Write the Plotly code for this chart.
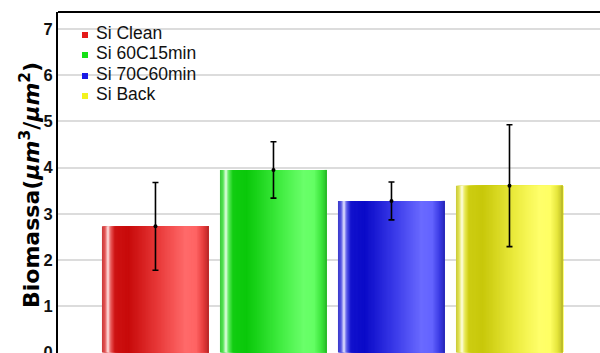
import plotly.graph_objects as go

# Biomass per substrate treatment (mean and standard deviation)
categories = ["Si Clean", "Si 60C15min", "Si 70C60min", "Si Back"]
biomass = [2.73, 3.95, 3.28, 3.61]
biomass_sd = [0.95, 0.61, 0.41, 1.32]
y_ticks = [0, 1, 2, 3, 4, 5, 6, 7]

# Which RGB channels carry the "main" hue for each series
hue_channels = [(1, 0, 0), (0, 1, 0), (0, 0, 1), (1, 1, 0)]
legend_colors = ["#e41a1a", "#16e016", "#1a1ae4", "#f2f21e"]

# Cylinder shading profile across the bar width: (position, main, other)
shade_stops = [
    (0.00, 200, 55), (0.03, 228, 85), (0.055, 255, 235), (0.08, 235, 95),
    (0.12, 205, 18), (0.25, 200, 10), (0.55, 235, 62), (0.78, 255, 106),
    (0.88, 255, 100), (0.95, 228, 58), (1.00, 185, 40),
]

BAR_W = 0.907
N_STRIPES = 90

# Pixel layout of the plotting area
W, H = 600, 353
L, T = 58, 12
PW, PH = W - L, H - T


def shade(t):
    for (t0, m0, o0), (t1, m1, o1) in zip(shade_stops, shade_stops[1:]):
        if t0 <= t <= t1:
            f = (t - t0) / (t1 - t0) if t1 > t0 else 0
            return m0 + f * (m1 - m0), o0 + f * (o1 - o0)
    return shade_stops[-1][1], shade_stops[-1][2]


def stripe_color(chans, t):
    main, other = shade(t)
    rgb = [int(round(main if c else other)) for c in chans]
    return "rgb(%d,%d,%d)" % tuple(rgb)


def px_x(p):
    return (p - L) / PW


def px_y(p):
    return (H - p) / PH


fig = go.Figure()

# Each bar is built from overlapping stripes, each running to the bar's right edge
for k in range(N_STRIPES):
    t = k / N_STRIPES
    fig.add_trace(go.Bar(
        x=categories, y=biomass,
        width=BAR_W * (1 - t),
        offset=-BAR_W / 2 + BAR_W * t,
        marker=dict(color=[stripe_color(c, t + 0.5 / N_STRIPES) for c in hue_channels],
                    line=dict(width=0)),
        showlegend=False, hoverinfo="skip",
    ))

fig.add_trace(go.Scatter(
    x=categories, y=biomass, mode="markers",
    marker=dict(color="black", size=4),
    error_y=dict(type="data", array=biomass_sd, color="black", thickness=1.6, width=3),
    showlegend=False,
))

# Legend block in the upper-left corner
legend_rows = [35, 55, 76, 96]
shapes = []
annotations = []
for name, col, py in zip(categories, legend_colors, legend_rows):
    shapes.append(dict(type="rect", xref="paper", yref="paper",
                       x0=px_x(82), x1=px_x(88), y0=px_y(py + 3), y1=px_y(py - 3),
                       fillcolor=col, line=dict(width=0)))
    annotations.append(dict(text=name, xref="paper", yref="paper",
                            x=px_x(94), y=px_y(py - 2), xanchor="left", yanchor="middle",
                            showarrow=False,
                            font=dict(family="Liberation Sans, Arial", size=17.5, color="#111")))

# Frame line along the top of the plot
shapes.append(dict(type="line", xref="paper", yref="paper", x0=0, x1=1, y0=1, y1=1,
                   line=dict(color="black", width=2)))

annotations.append(dict(
    text="<b>Biomassa(<i>μm</i><sup>3</sup>/<i>μm</i><sup>2</sup>)</b>",
    xref="paper", yref="paper", x=px_x(30), y=px_y(185),
    xanchor="center", yanchor="middle", textangle=-90, showarrow=False,
    font=dict(family="DejaVu Sans", size=22, color="black"),
))

fig.update_layout(
    width=W, height=H,
    margin=dict(l=L, r=0, t=T, b=0, autoexpand=False),
    paper_bgcolor="white", plot_bgcolor="white",
    barmode="overlay",
    showlegend=False,
    shapes=shapes,
    annotations=annotations,
    xaxis=dict(range=[-0.826, 3.767], showticklabels=False, showgrid=False,
               zeroline=False, showline=False, ticks="", automargin=False),
    yaxis=dict(range=[-0.013, 7.37], tickvals=y_ticks, ticks="",
               showgrid=True, gridcolor="#dcdcdc", gridwidth=2,
               zeroline=False, showline=True, linecolor="black", linewidth=2,
               ticklabeloverflow="allow", automargin=False,
               tickfont=dict(family="Liberation Sans, Arial", size=16.5, color="#111",
                             weight="bold")),
)

fig.write_html("out.html")
